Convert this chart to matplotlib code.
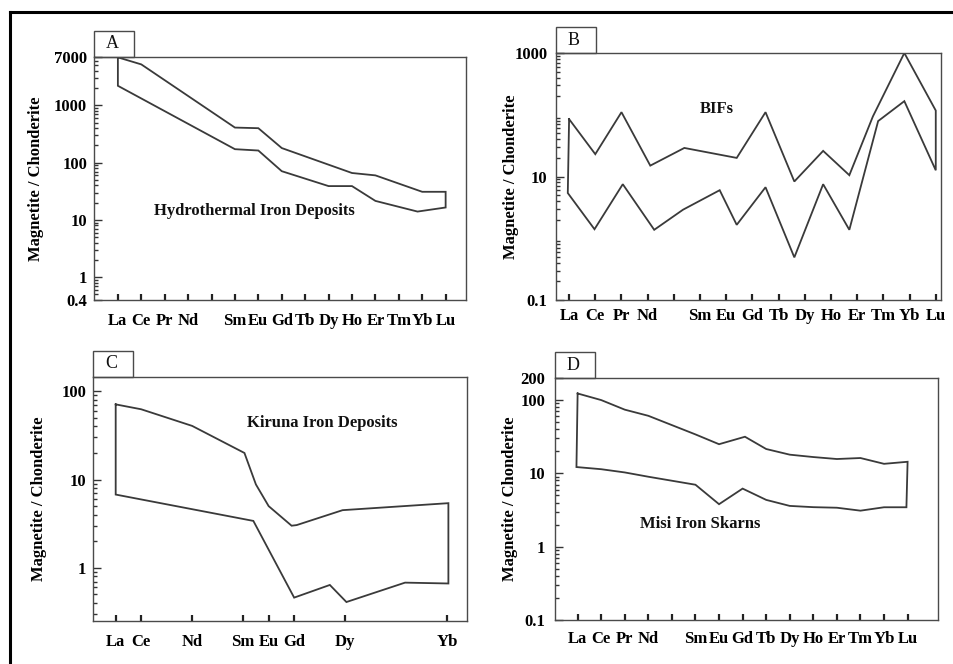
import matplotlib.pyplot as plt
from matplotlib.lines import Line2D
from matplotlib.patches import Rectangle
from matplotlib.ticker import FixedLocator, LogLocator, NullFormatter

plt.rcParams['font.family'] = ['Liberation Serif', 'DejaVu Serif']

W, H = 954, 664
REE = ["La", "Ce", "Pr", "Nd", "", "Sm", "Eu", "Gd", "Tb", "Dy", "Ho", "Er", "Tm", "Yb", "Lu"]
YLABEL = "Magnetite / Chonderite"

# A: hydrothermal iron deposits (x = position along the REE row, La = 0)
a_upper_x = [0, 1, 5, 6, 7, 10, 11, 13, 14]
a_upper_y = [6900, 5200, 410, 400, 180, 66, 60, 31, 31]
a_lower_x = [0, 5, 6, 7, 9, 10, 11, 12.8, 14]
a_lower_y = [2200, 172, 163, 71, 39, 39, 21.5, 14, 16.5]

# B: BIFs
b_upper_x = [0, 1, 2, 3.1, 4.4, 6.4, 7.5, 8.6, 9.7, 10.7, 11.6, 12.8, 14]
b_upper_y = [85, 23, 110, 15, 29, 20, 110, 8.3, 26, 10.5, 94, 1000, 117]
b_lower_x = [-0.05, 0.97, 2.05, 3.25, 4.35, 5.75, 6.4, 7.5, 8.6, 9.7, 10.7, 11.8, 12.8, 14]
b_lower_y = [5.4, 1.4, 7.5, 1.37, 2.9, 6.0, 1.65, 6.7, 0.49, 7.5, 1.37, 79, 166, 12.6]

# C: Kiruna iron deposits
c_upper_x = [0, 1, 3, 5.05, 5.5, 6.0, 6.9, 7.1, 8.9, 13.05]
c_upper_y = [71, 62.5, 40.5, 20, 8.8, 5.0, 3.0, 3.05, 4.5, 5.4]
c_lower_x = [0, 5.4, 7.0, 8.4, 9.05, 11.35, 13.05]
c_lower_y = [6.76, 3.4, 0.46, 0.64, 0.41, 0.68, 0.665]
c_ticks = [0, 1, 3, 5, 6, 7, 9, 13]
c_labels = ["La", "Ce", "Nd", "Sm", "Eu", "Gd", "Dy", "Yb"]

# D: Misi iron skarns
d_upper_x = [0, 1, 2, 3, 5, 6, 7.1, 8, 9, 10, 11, 12, 13, 14]
d_upper_y = [123, 100, 74, 61, 34, 25, 31.6, 21.5, 18, 16.7, 15.7, 16.2, 13.5, 14.4]
d_lower_x = [-0.05, 1, 2, 3, 5, 6, 7, 8, 9, 10, 11, 12, 13, 13.95]
d_lower_y = [12.2, 11.4, 10.3, 9.0, 7.0, 3.8, 6.2, 4.35, 3.6, 3.46, 3.4, 3.1, 3.45, 3.45]

fig = plt.figure(figsize=(W / 100, H / 100), dpi=100)
fig.patch.set_facecolor('white')

# outer frame (only the left and top edges fall inside the image)
fig.add_artist(Line2D([10 / W, 10 / W], [0, 1 - 12 / H], color='black', lw=2.2))
fig.add_artist(Line2D([10 / W, 1], [1 - 12 / H, 1 - 12 / H], color='black', lw=2.2))


def panel(px, tag, xu, yu, xl, yl, xlim, ylim, yt, ytl, xt, xtl,
          note, note_xy, ylab_x, xpad, ypad):
    left, top, right, bottom = px
    ax = fig.add_axes([left / W, 1 - bottom / H, (right - left) / W, (bottom - top) / H])
    ax.set_yscale('log')
    xs = list(xu) + list(xl)[::-1] + [xu[0]]
    ys = list(yu) + list(yl)[::-1] + [yu[0]]
    ax.plot(xs, ys, color='#3a3a3a', lw=1.3, solid_joinstyle='miter')
    ax.set_xlim(*xlim)
    ax.set_ylim(*ylim)

    ax.yaxis.set_major_locator(FixedLocator(yt))
    ax.set_yticklabels(ytl)
    ax.yaxis.set_minor_locator(LogLocator(base=10, subs=range(2, 10), numticks=20))
    ax.yaxis.set_minor_formatter(NullFormatter())
    ax.set_xticks(xt)
    ax.set_xticklabels(xtl)

    ax.tick_params(axis='x', direction='in', length=4, width=1.6, color='#222',
                   pad=xpad, labelsize=12)
    ax.tick_params(axis='y', which='major', direction='in', length=6, width=1.0,
                   color='#333', pad=ypad, labelsize=12)
    ax.tick_params(axis='y', which='minor', direction='in', length=3, width=1.0, color='#333')
    for lab in ax.get_xticklabels() + ax.get_yticklabels():
        lab.set_fontweight('bold')
    for s in ax.spines.values():
        s.set_color('#4a4a4a')
        s.set_linewidth(1.0)

    ax.set_ylabel(YLABEL, fontsize=12, fontweight='bold')
    ax.yaxis.set_label_coords(ylab_x, 0.5)

    ax.text(note_xy[0], note_xy[1], note, transform=ax.transAxes, ha='center',
            va='center', fontsize=12, fontweight='bold', color='#111')

    # tag box sitting on the top edge
    bw = 40 / (right - left)
    bh = 26 / (bottom - top)
    ax.add_patch(Rectangle((0, 1), bw, bh, transform=ax.transAxes, clip_on=False,
                           fill=True, fc='white', ec='#4a4a4a', lw=1.0))
    ax.text(bw * 0.45, 1 + bh / 2, tag, transform=ax.transAxes, ha='center',
            va='center', fontsize=13, color='#111')
    return ax


panel((94, 57, 466, 300), "A", a_upper_x, a_upper_y, a_lower_x, a_lower_y,
      (-1.02, 14.87), (0.4, 7000), [0.4, 1, 10, 100, 1000, 7000],
      ["0.4", "1", "10", "100", "1000", "7000"], list(range(15)), REE,
      "Hydrothermal Iron Deposits", (0.43, 0.366), -0.134, 9, 5)

panel((556, 53, 941, 300), "B", b_upper_x, b_upper_y, b_lower_x, b_lower_y,
      (-0.5, 14.2), (0.1, 1000), [0.1, 10, 1000], ["0.1", "10", "1000"],
      list(range(15)), REE, "BIFs", (0.418, 0.773), -0.096, 6, 6)

panel((93, 377, 467, 621), "C", c_upper_x, c_upper_y, c_lower_x, c_lower_y,
      (-0.89, 13.78), (0.25, 145), [1, 10, 100], ["1", "10", "100"],
      c_ticks, c_labels, "Kiruna Iron Deposits", (0.612, 0.811), -0.123, 9, 5)

panel((555, 378, 938, 620), "D", d_upper_x, d_upper_y, d_lower_x, d_lower_y,
      (-0.96, 15.29), (0.1, 200), [0.1, 1, 10, 100, 200],
      ["0.1", "1", "10", "100", "200"], list(range(15)), REE,
      "Misi Iron Skarns", (0.38, 0.397), -0.097, 8, 7)

fig.savefig("out.png", dpi=100)
